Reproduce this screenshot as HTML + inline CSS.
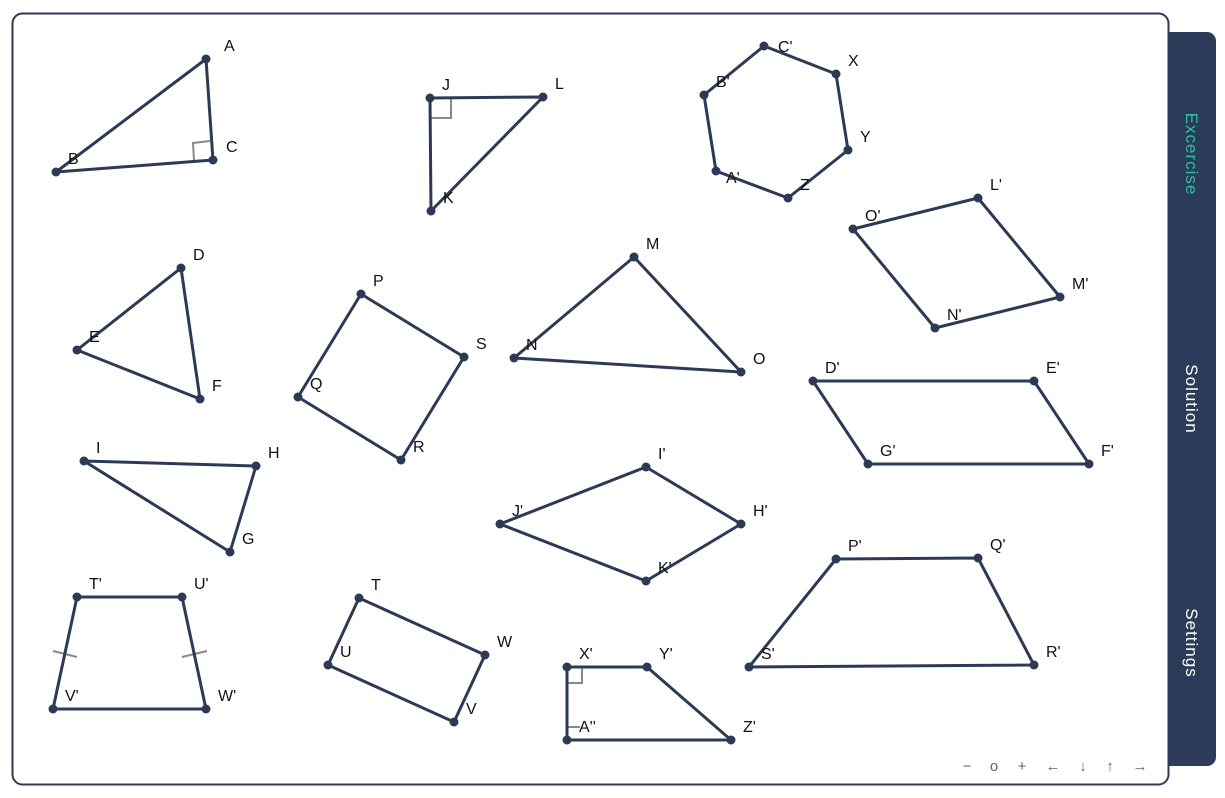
<!DOCTYPE html>
<html><head><meta charset="utf-8"><style>
html,body{margin:0;padding:0;background:#fff;width:1225px;height:798px;overflow:hidden;font-family:"Liberation Sans",sans-serif}
svg{position:absolute;left:0;top:0}
</style></head><body>
<svg width="1225" height="798">
<rect x="1150" y="32" width="66" height="734" rx="9" fill="#2d3b5a"/>
<rect x="12.5" y="13.5" width="1156" height="771" rx="10" fill="#fff" stroke="#2d3a56" stroke-width="2"/>
<text transform="translate(1186,154) rotate(90)" text-anchor="middle" font-size="17" fill="#2bbfa4" letter-spacing="1">Excercise</text>
<text transform="translate(1186,399) rotate(90)" text-anchor="middle" font-size="17" fill="#fff" letter-spacing="1">Solution</text>
<text transform="translate(1186,643) rotate(90)" text-anchor="middle" font-size="17" fill="#fff" letter-spacing="1">Settings</text>
<g id="marks" stroke="#888" stroke-width="2" fill="none">
<path d="M194,161 L193,143 L210,141"/>
<path d="M431,118 L451,118 L451,98"/>
<path d="M568,683 L582,683 L582,667"/>
<path d="M568,727 L580,727"/>
<path d="M53,651 L77,657"/>
<path d="M182,657 L207,651"/>
</g>
<g id="shapes"></g>
<g id="ctrl" font-size="15" fill="#666" text-anchor="middle">
<text x="967" y="771">−</text>
<text x="994" y="771">o</text>
<text x="1022" y="771">+</text>
<text x="1053" y="771">←</text>
<text x="1083" y="771">↓</text>
<text x="1110" y="771">↑</text>
<text x="1140" y="771">→</text>
</g>
</svg>
<script>
const shapeNames=["triangle-abc","triangle-jlk","hexagon","rhombus-olmn","triangle-def","square-psrq","triangle-mno","parallelogram-defg","triangle-ihg","kite-ihkj","trapezoid-pqrs","trapezoid-tuwv","rectangle-twvu","trapezoid-xyza"];
const shapePoints=[
[["A",206,59,18,-8],["C",213,160,13,-8],["B",56,172,12,-8]],
[["J",430,98,12,-8],["L",543,97,12,-8],["K",431,211,12,-8]],
[["C'",764,46,14,6],["X",836,74,12,-8],["Y",848,150,12,-8],["Z",788,198,12,-8],["A'",716,171,10,12],["B'",704,95,12,-8]],
[["O'",853,229,12,-8],["L'",978,198,12,-8],["M'",1060,297,12,-8],["N'",935,328,12,-8]],
[["D",181,268,12,-8],["F",200,399,12,-8],["E",77,350,12,-8]],
[["P",361,294,12,-8],["S",464,357,12,-8],["R",401,460,12,-8],["Q",298,397,12,-8]],
[["M",634,257,12,-8],["O",741,372,12,-8],["N",514,358,12,-8]],
[["D'",813,381,12,-8],["E'",1034,381,12,-8],["F'",1089,464,12,-8],["G'",868,464,12,-8]],
[["I",84,461,12,-8],["H",256,466,12,-8],["G",230,552,12,-8]],
[["I'",646,467,12,-8],["H'",741,524,12,-8],["K'",646,581,12,-8],["J'",500,524,12,-8]],
[["P'",836,559,12,-8],["Q'",978,558,12,-8],["R'",1034,665,12,-8],["S'",749,667,12,-8]],
[["T'",77,597,12,-8],["U'",182,597,12,-8],["W'",206,709,12,-8],["V'",53,709,12,-8]],
[["T",359,598,12,-8],["W",485,655,12,-8],["V",454,722,12,-8],["U",328,665,12,-8]],
[["X'",567,667,12,-8],["Y'",647,667,12,-8],["Z'",731,740,12,-8],["A''",567,740,12,-8]]
];
const NS="http://www.w3.org/2000/svg";
const g=document.getElementById('shapes');
shapePoints.forEach((pts,i)=>{
  const poly=document.createElementNS(NS,'polygon');
  poly.setAttribute('points',pts.map(p=>p[1]+','+p[2]).join(' '));
  poly.setAttribute('fill','none');poly.setAttribute('stroke','#2d3a56');poly.setAttribute('stroke-width','3');poly.setAttribute('stroke-linejoin','round');
  
  
  g.appendChild(poly);
  pts.forEach(p=>{
    const c=document.createElementNS(NS,'circle');
    c.setAttribute('cx',p[1]);c.setAttribute('cy',p[2]);c.setAttribute('r','4.5');c.setAttribute('fill','#2d3a56');
    
    
    g.appendChild(c);
    const t=document.createElementNS(NS,'text');
    t.setAttribute('x',p[1]+p[3]);t.setAttribute('y',p[2]+p[4]);t.setAttribute('font-size','16');t.setAttribute('fill','#111');
    t.textContent=p[0];
    
    
    g.appendChild(t);
  });
});
</script>
</body></html>
